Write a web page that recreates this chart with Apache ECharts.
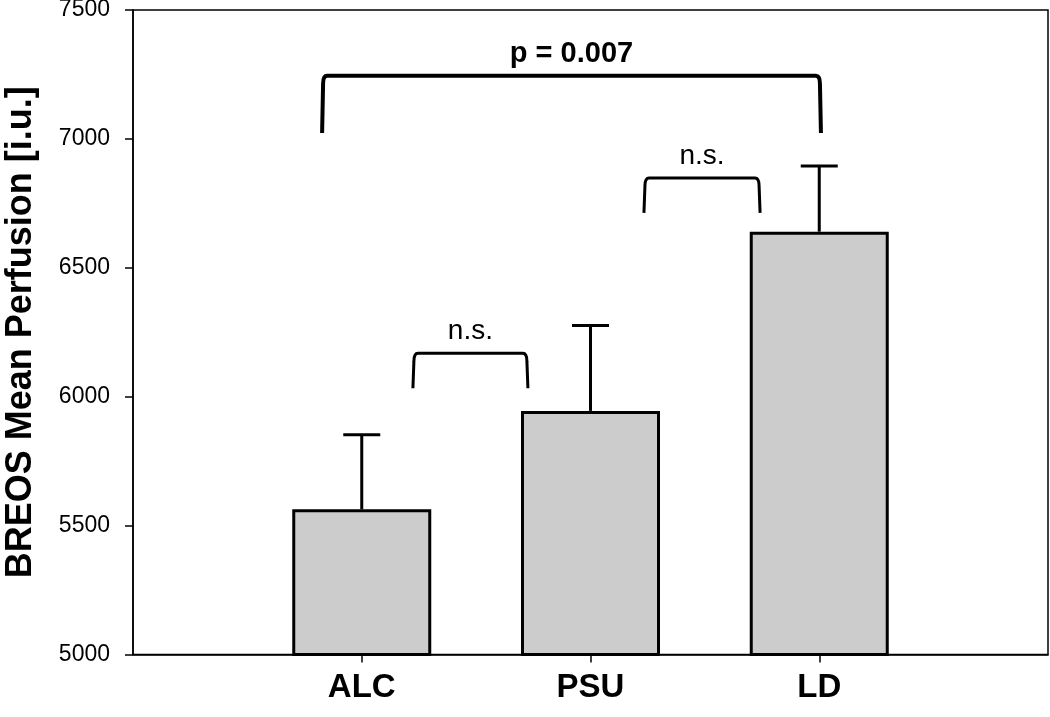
<!DOCTYPE html>
<html>
<head>
<meta charset="utf-8">
<script src="https://cdn.jsdelivr.net/npm/echarts@6/dist/echarts.min.js"></script>
<style>html,body{margin:0;padding:0;background:#fff}#c{width:1050px;height:717px}</style>
</head>
<body>
<div id="c"></div>
<script>
// ---- data ----
var categories = ['ALC', 'PSU', 'LD'];
var categoryPositions = [1, 2, 3];
var meanValues = [5563, 5945, 6640];
var errorTops = [5852, 6276, 6895];
var yTicks = [5000, 5500, 6000, 6500, 7000, 7500];
// significance brackets: [xStart, xEnd, yTop, yBottom]
var bracketSpans = [[1.228, 1.722, 6169, 6033], [2.238, 2.737, 6848, 6713], [0.831, 3.003, 7245, 7023]];
var bracketLabels = ['n.s.', 'n.s.', 'p = 0.007'];

var FONT = '"Liberation Sans", Arial, Helvetica, sans-serif';

var barData = categoryPositions.map(function (x, i) { return [x, meanValues[i]]; });
var errData = categoryPositions.map(function (x, i) { return [x, meanValues[i], errorTops[i]]; });
var bracketData = bracketSpans.map(function (b, i) { return b.concat([i]); });

var chart = echarts.init(document.getElementById('c'), null, { renderer: 'canvas' });
chart.setOption({
  animation: false,
  backgroundColor: '#fff',
  grid: { left: 133, right: 2, top: 10, bottom: 62.5, show: true, borderColor: '#000', borderWidth: 1.5, backgroundColor: 'transparent', outerBoundsMode: 'none', containLabel: false },
  xAxis: {
    type: 'value', min: 0, max: 4, interval: 1,
    splitLine: { show: false },
    axisLine: { lineStyle: { color: '#000', width: 1.5 } },
    axisTick: { show: true, length: 8, lineStyle: { color: '#000', width: 1.5 }, customValues: categoryPositions },
    axisLabel: {
      customValues: categoryPositions,
      formatter: function (v) { var i = categoryPositions.indexOf(v); return i >= 0 ? categories[i] : ''; },
      color: '#000', fontFamily: FONT, fontWeight: 'bold', fontSize: 33, margin: 17
    }
  },
  yAxis: {
    type: 'value', min: yTicks[0], max: yTicks[yTicks.length - 1], interval: 500,
    splitLine: { show: false },
    axisLine: { show: true, lineStyle: { color: '#000', width: 1.5 } },
    axisTick: { show: true, length: 8, lineStyle: { color: '#000', width: 1.5 } },
    axisLabel: { color: '#000', fontFamily: FONT, fontSize: 23, margin: 23, formatter: function (v) { return String(v); } },
    name: 'BREOS Mean Perfusion [i.u.]',
    nameLocation: 'middle', nameRotate: 90, nameGap: 94,
    nameTextStyle: { color: '#000', fontFamily: FONT, fontWeight: 'bold', fontSize: 36 }
  },
  series: [
    {
      type: 'bar', data: barData, barWidth: 139, clip: true,
      itemStyle: { color: '#cccccc', borderColor: '#000', borderWidth: 3 }
    },
    {
      type: 'custom', data: errData, z: 1,
      renderItem: function (params, api) {
        var x = api.value(0);
        var base = api.coord([x, api.value(1)]);
        var top = api.coord([x, api.value(2)]);
        var hw = 18.5;
        var style = { stroke: '#000', lineWidth: 3, fill: null };
        return {
          type: 'group', children: [
            { type: 'line', shape: { x1: base[0], y1: base[1], x2: top[0], y2: top[1] }, style: style },
            { type: 'line', shape: { x1: top[0] - hw, y1: top[1], x2: top[0] + hw, y2: top[1] }, style: style }
          ]
        };
      }
    },
    {
      type: 'custom', data: bracketData,
      renderItem: function (params, api) {
        var p1 = api.coord([api.value(0), api.value(2)]);
        var p2 = api.coord([api.value(1), api.value(2)]);
        var b1 = api.coord([api.value(0), api.value(3)]);
        var idx = api.value(4);
        var big = idx === 2;
        var lw = big ? 4 : 3;
        var r = 4;
        var xL = p1[0], xR = p2[0], yT = p1[1], yB = b1[1];
        var d = 'M' + (xL - 1) + ',' + yB +
          ' L' + xL + ',' + (yT + r * 2) +
          ' Q' + xL + ',' + yT + ' ' + (xL + r) + ',' + yT +
          ' L' + (xR - r) + ',' + yT +
          ' Q' + xR + ',' + yT + ' ' + xR + ',' + (yT + r * 2) +
          ' L' + (xR + 1) + ',' + yB;
        return {
          type: 'group', children: [
            { type: 'path', shape: { pathData: d }, style: { stroke: '#000', lineWidth: lw, fill: null } },
            {
              type: 'text', x: (xL + xR) / 2, y: yT - 22,
              style: {
                text: bracketLabels[idx], fill: '#000', font: (big ? 'bold 29px ' : '28px ') + FONT,
                align: 'center', verticalAlign: 'middle'
              }
            }
          ]
        };
      }
    }
  ]
});
</script>
</body>
</html>
